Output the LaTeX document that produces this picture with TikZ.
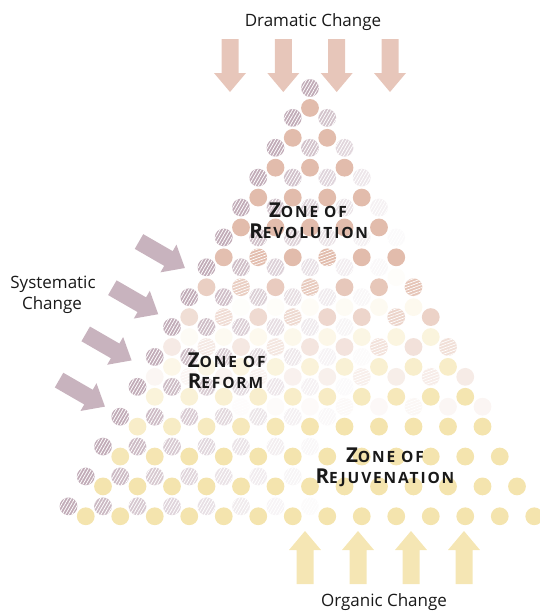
\documentclass[tikz,border=0pt]{standalone}
\usepackage{fontspec}
\setmainfont{Open Sans}
\newfontfamily\zonefont[LetterSpace=12]{Open Sans}
\usetikzlibrary{patterns.meta}
\definecolor{mauve}{RGB}{192,170,182}
\definecolor{salmon}{RGB}{226,188,172}
\definecolor{yell}{RGB}{244,228,174}
\definecolor{mauvearrow}{RGB}{200,179,190}
\definecolor{salmonarrow}{RGB}{231,198,186}
\definecolor{yellarrow}{RGB}{245,230,180}
\definecolor{ink}{RGB}{25,25,25}
\newcommand\arrowshape{(-8.5,0) -- (8.5,0) -- (8.5,34) -- (16,34) -- (0,53) -- (-16,34) -- (-8.5,34) -- cycle}
\newcommand\zonetxt[2]{{\fontsize{20.5}{20.5}\selectfont #1}{\fontsize{15.5}{15.5}\selectfont #2}}
\tikzset{
  lbl/.style={font=\fontsize{17}{20}\selectfont, text=ink, inner sep=0pt, anchor=base},
  zonelbl/.style={font=\zonefont\bfseries, text=ink, inner sep=0pt, anchor=base},
  dot/.style={radius=8.9},
  hatchm/.style={pattern={Lines[angle=60,distance=2.8pt,line width=0.8pt]}, pattern color=white, fill opacity=0.4},
  hatchs/.style={pattern={Lines[angle=20,distance=2.8pt,line width=0.7pt]}, pattern color=white, fill opacity=0.5},
}
\begin{document}
\begin{tikzpicture}[x=1pt,y=-1pt]
\useasboundingbox (0,0) rectangle (540,611);
% lattice of dots
\foreach \m in {0,...,43}{
  \pgfmathtruncatemacro\cmax{floor(\m/3)}
  \pgfmathtruncatemacro\cmin{-\cmax}
  \foreach \c in {\cmin,...,\cmax}{
    \pgfmathtruncatemacro\parity{mod(\c+\m+200,2)}
    \ifnum\parity=0
      \pgfmathsetmacro\px{310+17.25*\c}
      \pgfmathsetmacro\py{88+9.96*\m}
      \pgfmathtruncatemacro\kind{mod(\m,3)}
      \ifcase\kind
        \pgfmathsetmacro\dl{0.866*(\px-310)+0.5*(\py-88)}
        \pgfmathsetmacro\ww{140+0.25*(\py-88)}
        \pgfmathtruncatemacro\al{100*pow(max(0.0001,min(1,1-\dl/\ww)),1.5)}
        \ifnum\al>3
          \fill[mauve!\al!white] (\px,\py) circle[dot];
          \fill[hatchm] (\px,\py) circle[dot];
        \fi
      \or
        \pgfmathsetmacro\uu{\py+0.2*(\px-310)}
        \pgfmathtruncatemacro\al{100*pow(max(0.0001,min(1,(\uu-270)/160)),1.5)}
        \ifnum\al>3
          \fill[yell!\al!white] (\px,\py) circle[dot];
        \fi
      \or
        \pgfmathsetmacro\vv{\py-0.1*(\px-310)}
        \pgfmathtruncatemacro\al{100*pow(max(0.0001,min(1,1-(\vv-260)/170)),1.3)}
        \ifnum\al>3
          \fill[salmon!\al!white] (\px,\py) circle[dot];
          \pgfmathtruncatemacro\hh{mod(\c+2*\m+300,5)}
          \ifnum\m>15 \ifnum\hh<2
            \fill[hatchs] (\px,\py) circle[dot];
          \fi\fi
        \fi
      \fi
    \fi
  }
}
% arrows
\foreach \x in {230,283.3,336.7,390}
  \fill[salmonarrow, shift={(\x,39)}] \arrowshape;
\foreach \x in {305,358,411,464}
  \fill[yellarrow, shift={(\x,584)}, rotate=180] \arrowshape;
\foreach \k in {0,1,2,3}
  \fill[mauvearrow, shift={(139-26.65*\k,241.5+46.2*\k)}, rotate=60] \arrowshape;
% labels
\node[lbl] (dram) at (313,26) {Dramatic Change};
\node[lbl] (sys1) at (53,288) {Systematic};
\node[lbl] (sys2) at (52,309) {Change};
\node[lbl] (org) at (384,606) {Organic Change};
\node[zonelbl] (rev1) at (308,217.7) {\zonetxt{Z}{ONE OF}};
\node[zonelbl] (rev2) at (308.7,238) {\zonetxt{R}{EVOLUTION}};
\node[zonelbl] (ref1) at (226.7,367) {\zonetxt{Z}{ONE OF}};
\node[zonelbl] (ref2) at (225.5,388) {\zonetxt{R}{EFORM}};
\node[zonelbl] (rej1) at (385,462.7) {\zonetxt{Z}{ONE OF}};
\node[zonelbl] (rej2) at (385,483.3) {\zonetxt{R}{EJUVENATION}};
\end{tikzpicture}
\end{document}
